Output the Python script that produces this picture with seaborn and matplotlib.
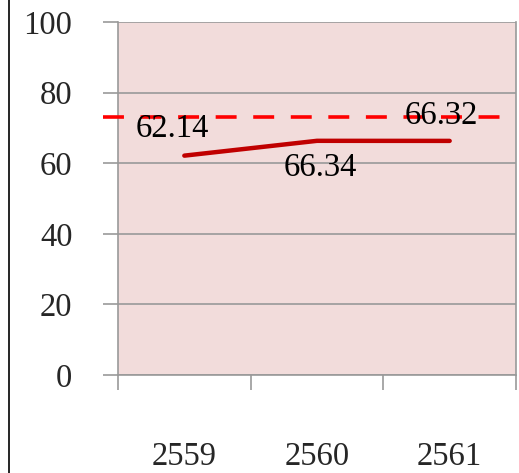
import matplotlib
matplotlib.use("Agg")
import matplotlib.pyplot as plt
import matplotlib.transforms as mtrans
from matplotlib.lines import Line2D
import seaborn as sns
import pandas as pd

years = ["2559", "2560", "2561"]
values = [62.14, 66.34, 66.32]
target = 73.0
yticks = [0, 20, 40, 60, 80, 100]
label_offsets_px = [(-12, 27), (3, -27), (-8, 25)]

sns.set_theme(style="white")
plt.rcParams['font.family'] = ['Liberation Serif', 'DejaVu Serif']

df = pd.DataFrame({"pos": list(range(len(years))), "value": values, "year": years})

fig = plt.figure(figsize=(5.19, 4.73), dpi=100)
ax = fig.add_axes([118/519, 1-375/473, (516-118)/519, (375-22)/473])
ax.set_facecolor("#F2DCDB")

sns.lineplot(data=df, x="pos", y="value", ax=ax, color="#C00000", linewidth=3.2,
             solid_capstyle="round", legend=False)

# dashed target line extending into the tick zone
trans = mtrans.blended_transform_factory(ax.transAxes, ax.transData)
ax.plot([-15/398, 1.0], [target, target], transform=trans, color="#FF0000",
        linewidth=2.6, dashes=(5.8, 4.6), clip_on=False, zorder=5)

FS = 23.5
for x, v, (dx, dy) in zip(df["pos"], values, label_offsets_px):
    ax.annotate(f"{v:.2f}", (x, v), xytext=(dx*0.72, dy*0.72), textcoords="offset points",
                ha="center", va="center", fontsize=FS, color="black", zorder=6)

ax.set_xlim(-0.5, len(years)-0.5)
ax.set_ylim(0, 100)
ax.set_yticks(yticks)
ax.set_yticklabels([str(t) for t in yticks])
ax.yaxis.grid(True, color="#999999", linewidth=1.2)
ax.xaxis.grid(False)
ax.set_axisbelow(True)

ax.set_xticks([i - 0.5 for i in range(len(years)+1)])
ax.set_xticklabels([])
ax.set_xticks(list(range(len(years))), minor=True)
ax.set_xticklabels(years, minor=True)
ax.tick_params(axis="x", which="major", length=10.8, width=1.2, color="#999999", direction="out", bottom=True)
ax.tick_params(axis="x", which="minor", length=0, pad=48, labelsize=FS)
ax.tick_params(axis="y", length=10.8, width=1.2, color="#999999", direction="out", left=True,
               pad=22, labelsize=FS)
ax.set_xlabel("")
ax.set_ylabel("")

for side in ["left", "bottom", "right", "top"]:
    ax.spines[side].set_visible(True)
    ax.spines[side].set_color("#999999")
    ax.spines[side].set_linewidth(1.2)
ax.spines["top"].set_visible(False)

fig.add_artist(Line2D([8.5/519, 8.5/519], [0, 1], transform=fig.transFigure, color="black", linewidth=1.2))

fig.savefig("out.png", dpi=100)
